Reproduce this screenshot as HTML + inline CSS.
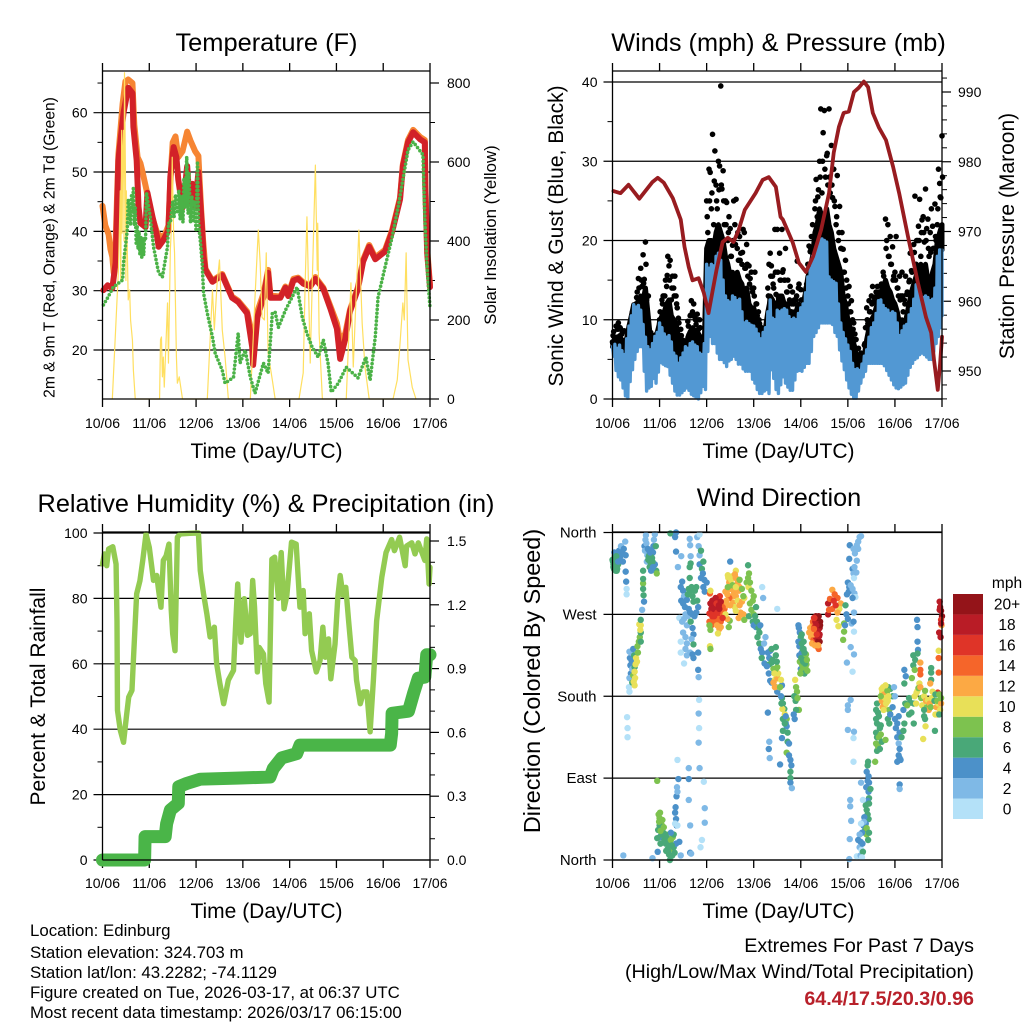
<!DOCTYPE html>
<html lang="en">
<head>
<meta charset="utf-8">
<title>Station Meteogram</title>
<style>
html,body{margin:0;padding:0;background:#fff;width:1024px;height:1024px;overflow:hidden}
svg{display:block;font-family:"Liberation Sans",Arial,sans-serif}
text{fill:#000}
</style>
</head>
<body>
<svg id="root" width="1024" height="1024" viewBox="0 0 1024 1024" xmlns="http://www.w3.org/2000/svg">
<rect x="0" y="0" width="1024" height="1024" fill="#fff"/>
<g id="p1"></g>
<g id="p2"></g>
<g id="p3"></g>
<g id="p4"></g>
<g id="cb"></g>

<text x="266.5" y="51" font-size="25.4" text-anchor="middle">Temperature (F)</text>
<text x="778.5" y="51" font-size="25.3" text-anchor="middle">Winds (mph) &amp; Pressure (mb)</text>
<text x="266" y="512" font-size="25.3" text-anchor="middle">Relative Humidity (%) &amp; Precipitation (in)</text>
<text x="779" y="506" font-size="25.3" text-anchor="middle">Wind Direction</text>

<text x="266.5" y="458" font-size="21" text-anchor="middle">Time (Day/UTC)</text>
<text x="778.5" y="458" font-size="21" text-anchor="middle">Time (Day/UTC)</text>
<text x="266.5" y="918" font-size="21" text-anchor="middle">Time (Day/UTC)</text>
<text x="778.5" y="918" font-size="21" text-anchor="middle">Time (Day/UTC)</text>

<text transform="translate(54.5 247.5) rotate(-90)" font-size="15.6" text-anchor="middle">2m &amp; 9m T (Red, Orange) &amp; 2m Td (Green)</text>
<text transform="translate(496 235) rotate(-90)" font-size="16.8" text-anchor="middle">Solar Insolation (Yellow)</text>
<text transform="translate(563 236) rotate(-90)" font-size="21" text-anchor="middle">Sonic Wind &amp; Gust (Blue, Black)</text>
<text transform="translate(1014 236) rotate(-90)" font-size="21" text-anchor="middle">Station Pressure (Maroon)</text>
<text transform="translate(45 696.5) rotate(-90)" font-size="21" text-anchor="middle">Percent &amp; Total Rainfall</text>
<text transform="translate(540 681) rotate(-90)" font-size="23.4" text-anchor="middle">Direction (Colored By Speed)</text>

<text x="30" y="936" font-size="16.85">Location: Edinburg</text>
<text x="30" y="958" font-size="16.85">Station elevation: 324.703 m</text>
<text x="30" y="978" font-size="16.85">Station lat/lon: 43.2282; -74.1129</text>
<text x="30" y="998" font-size="16.85">Figure created on Tue, 2026-03-17, at 06:37 UTC</text>
<text x="30" y="1018" font-size="16.85">Most recent data timestamp: 2026/03/17 06:15:00</text>
<text x="974" y="952" font-size="19.7" text-anchor="end">Extremes For Past 7 Days</text>
<text x="974" y="978" font-size="19.7" text-anchor="end">(High/Low/Max Wind/Total Precipitation)</text>
<text x="974" y="1005" font-size="19.7" font-weight="bold" text-anchor="end" style="fill:#b8202a">64.4/17.5/20.3/0.96</text>
</svg>

<script>
// ---- shared axis labels ----
const dayLabels = ['10/06','11/06','12/06','13/06','14/06','15/06','16/06','17/06'];
const tempTicks = [20,30,40,50,60];
const solarTicks = [0,200,400,600,800];
const windTicks = [0,10,20,30,40];
const pressureTicks = [950,960,970,980,990];
const percentTicks = [0,20,40,60,80,100];
const rainTicks = [0.0,0.3,0.6,0.9,1.2,1.5];
const rainTickLabels = ['0.0','0.3','0.6','0.9','1.2','1.5'];
const dirTicks = [0,90,180,270,360];
const dirTickLabels = ['North','East','South','West','North'];

// ---- temperature panel ----
const redTimes = [.02,.11,.21,.28,.3,.34,.45,.55,.64,.66,.73,.77,.81,.92,.96,1.07,1.17,1.2,1.3,1.41,1.45,1.52,1.58,1.62,1.71,1.77,1.81,1.86,1.92,1.98,2.05,2.09,2.13,2.16,2.2,2.35,2.56,2.67,2.77,2.9,3.09,3.2,3.22,3.31,3.44,3.54,3.59,3.8,3.91,3.97,4.08,4.18,4.29,4.44,4.55,4.72,4.87,5.01,5.08,5.19,5.29,5.46,5.57,5.7,5.83,6.04,6.19,6.36,6.42,6.53,6.64,6.79,6.89,6.9,6.94,7];
const redTemps = [30.1,30.9,30.4,34.7,40.2,52,60,64.2,63.3,57.6,52,44.1,41.4,40.7,46.5,42.4,39,37.4,38.5,40.2,49.2,54.2,52.5,48.7,44,48,51,45,48,44,50,45,40.2,35.7,33.5,31.5,32.6,30.6,28.8,28.1,26.2,20.5,17.5,25.5,28.9,33,28.8,28.8,30.5,29.1,31.7,32,31.2,30.7,32,30.3,27,23.6,18.5,21.9,26.5,30.3,34.9,37.4,35.3,36.6,39.9,45.4,51,55,56.7,55.5,55,47.5,36.3,30.6];
const orangeTimes = [0,.06,.13,.17,.21,.24,.28,.34,.43,.49,.55,.64,.68,.75,.81,.85,.94,1.02,1.17,1.3,1.41,1.45,1.5,1.56,1.62,1.71,1.81,1.88,1.98,2.05,2.07,2.11,2.15,2.2,2.35,2.56,2.67,2.77,2.9,3.09,3.2,3.25,3.31,3.44,3.54,3.59,3.8,3.91,3.97,4.08,4.18,4.29,4.44,4.55,4.72,4.87,5.01,5.08,5.19,5.29,5.46,5.57,5.7,5.83,6.04,6.19,6.36,6.42,6.53,6.64,6.79,6.89,6.9,6.94,7];
const orangeTemps = [44.3,41,39.5,37,35.7,33,38,53,61.5,65.3,65.6,65,58,52.5,51.5,50.2,47,43.5,39.7,38.8,41,48.5,55,56,52.5,53.5,56.8,55.3,53.5,52.7,49.5,43.5,38.5,33.7,31.7,32.8,30.8,29,28.3,26.5,22.5,21,26.5,29.5,33.5,29.2,29,30.7,29.3,32,32.2,31.4,30.9,32.3,30.5,27.4,24.5,21.5,22.8,26.8,30.6,35.2,37.7,35.6,36.9,40.2,45.7,51.3,55.4,57.1,55.9,55.4,48,37,31];
const greenTimes = [.02,.11,.23,.43,.45,.53,.55,.58,.6,.62,.64,.66,.68,.7,.72,.74,.76,.78,.8,.82,.84,.86,.88,.9,.92,.94,1.02,1.09,1.2,1.28,1.39,1.41,1.45,1.5,1.53,1.56,1.6,1.63,1.66,1.69,1.72,1.74,1.77,1.8,1.83,1.85,1.88,1.91,1.94,1.97,2,2.03,2.05,2.07,2.09,2.13,2.16,2.24,2.35,2.41,2.56,2.62,2.8,2.9,2.94,3.05,3.16,3.26,3.44,3.54,3.63,3.69,3.76,3.91,4.16,4.27,4.37,4.48,4.61,4.72,4.82,4.89,5.04,5.21,5.46,5.63,5.72,5.83,5.89,6.04,6.19,6.32,6.42,6.53,6.64,6.85,6.89,6.94,7];
const greenTemps = [27.6,28.8,30.6,31.8,34.7,40.2,45.3,44,41,46,43,47.5,41,44,38,41,37,40,36,39,35.5,39,36,39,38.5,46.5,42.4,37.4,33,32.3,37.4,41.4,41.4,45,42.4,46.2,43,47,42,46,41.5,49,44,52.6,43,50,41.4,46,41.8,45,40,51.5,42,40,38.5,34.7,29.6,26.2,22.2,19.4,16.6,14.4,15.4,22.8,17.8,20,15.4,12.7,17.8,16.1,26.2,26.4,23.8,26.7,30.6,25.5,22.8,20.5,18.8,21.7,17.8,12.9,14.4,17.1,15.3,18.8,14.9,22.2,28.9,34,39,44.1,48.7,53.7,55.1,52.9,41.9,33.5,27.2];
const solarTimes = [.21,.28,.34,.38,.39,.41,.42,.43,.45,.46,.47,.49,.5,.51,.53,.55,.58,.6,.64,.66,.7,1.22,1.24,1.26,1.28,1.3,1.32,1.39,1.41,1.45,1.47,1.49,1.52,1.54,1.58,1.6,1.64,1.71,2.24,2.35,2.39,2.45,2.5,2.56,2.62,2.69,3.16,3.22,3.26,3.33,3.37,3.41,3.46,3.5,3.54,3.63,3.69,4.2,4.29,4.33,4.37,4.44,4.48,4.55,4.59,4.6,4.63,4.7,5.21,5.31,5.36,5.4,5.48,5.55,5.61,5.7,6.21,6.3,6.36,6.42,6.45,6.49,6.53,6.62,6.7];
const solarValues = [0,175,326,527,300,680,420,620,680,400,826,580,300,527,377,251,276,200,149,73,0,0,150,157,56,106,30,243,91,377,427,612,420,370,106,40,56,0,0,276,175,294,352,175,106,0,0,150,258,428,344,207,200,370,116,48,0,0,66,284,461,91,280,592,326,445,167,0,0,294,81,200,428,192,81,0,0,48,142,243,200,370,99,30,0];

// ---- winds panel ----
const pressureTimes = [.02,.17,.34,.57,.85,.96,1.09,1.28,1.45,1.53,1.62,1.7,1.83,1.94,2.04,2.13,2.21,2.34,2.45,2.57,2.68,2.81,3.04,3.19,3.32,3.47,3.57,3.62,3.83,3.96,4.11,4.26,4.43,4.6,4.7,4.81,4.91,5.02,5.13,5.23,5.34,5.43,5.53,5.66,5.81,5.96,6.09,6.28,6.49,6.66,6.77,6.83,6.91,6.96,7];
const pressureValues = [975.8,975.5,976.7,974.7,977.1,977.7,977,974.8,971.7,967.8,964.9,963,963.3,961.2,958.3,961.6,964.5,968.5,969.1,968.5,970.2,973.1,975.5,977.4,977.8,976.4,972.1,971.7,968.4,965.5,964.2,966.4,970.2,975.5,981.3,985,987,987.2,990,990.6,991.5,990.7,987,984.9,983.1,979.3,975.5,969.2,962.6,957.7,955.5,951.6,947.3,951.1,954.9];
// sonic wind, sampled every 0.05 day: highs and lows of each sample window
const windStepDays = 0.05;
const windHigh = [6.6,6.9,6.4,6.8,6.1,5.6,7.6,9.2,10.5,11.9,11.6,11.8,11.2,9.4,7.8,6.6,6.2,7,7.9,8.4,9.6,9,8.2,7.8,8,7.2,5.8,5.4,4.5,5.2,5.8,6.6,6.4,7,7.2,6.8,6.6,5.8,5.6,7,17,16.5,17,16.8,18,18.4,17.5,15,13,12.4,12.2,13,12.8,12.4,12.6,11,9.6,9.8,9.5,9.3,9.2,8.8,8.2,7.6,8.4,9,11,12.5,10.2,10,11.2,11,11.2,11.4,11.2,10.4,10,10.2,10,10.8,11.5,12,13.4,15.4,16.5,18,18.5,19.5,20,20.2,20,19.8,15.4,15,14.8,14.6,12,9.6,8.4,7.6,6.8,6,4.5,3.7,3.8,3.6,4.4,5.4,6.2,7.8,9,9.6,10.8,12.4,12.5,11.8,11.4,11.2,10.8,11,10.8,9.6,8,8.6,9.2,9.4,10.6,11.4,12.6,14.4,14.2,13.2,12.8,13,12.8,12.4,12.6,14,18,18.8,18.8];
const windLow = [5.4,3.6,2.8,2.4,1.4,.4,.1,2.2,3.7,5,6,6.6,6.6,3.5,1,1.4,1.6,2.6,2,3.4,4.6,4.4,4.2,4.1,3,2,1,.5,.5,.8,1.1,1.4,1.1,.6,.4,.2,0,.8,1.6,1.2,6,7.9,7,7,5.8,5,5,4.6,4.1,4.8,5,5.4,5,4.4,4.4,3.8,3.5,3.5,3.5,2.5,2,1.2,.7,.7,1,1.2,.7,3.7,2.6,1.2,.7,1.8,2.8,2,1.5,1.1,1.1,2.4,3.5,3.6,3.5,4,4.5,4.5,6,7.9,8.4,9,9.6,9.6,9.6,9.6,9.6,9.4,8.4,7.9,6.2,4.8,3.7,2.4,1.4,.6,.1,.1,1,2,2.8,3.5,4.5,4.5,4.5,4.5,4.5,4.5,4.5,4.2,3.6,3,2.4,1.8,1.4,1.3,1.5,1.8,2,3,4,4.5,5,5.2,5.6,5.8,5.6,5.3,5,5,6,7,7.9,9,10.5];
// gusts, sampled every 0.025 day
const gustStepDays = 0.025;
const gustValues = [7.2,8.5,6.4,9.2,7.8,9.6,6.8,8.8,8.2,7.1,8.6,6.5,5.5,6.4,5.2,4.8,9.2,11,8.2,10.8,12,13.5,15.2,12.2,16.5,14.2,18.2,15.1,19.8,12.5,10.4,8.8,8.3,7.2,8,6.8,7.9,6.9,8,7.2,10,8.8,12.5,13,11,15,14.2,18,16.8,17.5,12.5,15.5,14,15.5,13,11.5,10.2,7.2,8.8,6.2,7.4,6.3,6.9,5.6,9.8,8.1,10.5,12.4,11,12,10.5,9.4,10.7,8.8,10,7.5,6.9,7.8,6.2,8.3,25,21,29,28.6,24,33.4,22,31.3,27,24,30,29.4,39.5,26.5,28.8,22,25,24.8,20,23,21.5,18,19.4,25,22,25.2,19,17.5,20.5,18.4,17,21.4,21,16.5,19.5,15.5,16.8,15.2,16,13.5,14,16,12,10.5,11,9.5,7.8,8.6,6.6,5.5,8.2,7.4,14,17,18.4,16.8,15.5,14,21.4,13.2,21.4,12.8,18.4,15,21.4,16.3,15,19,13.5,15,12,14.2,11,13.5,12,10.5,12.5,17.4,14,11.5,13.8,10.6,12.5,11,13.5,14.5,17,19.3,18.6,20.5,22,19,24,27.7,23,26.4,30,36.6,26,33.6,36.4,28,30.7,27,36.6,26,32,25.4,29,24.3,22,28.2,20,24.3,19,21,18.9,16,17.5,15,13,14.2,11,12.4,10,9.6,8.2,7.5,5.5,6.4,4.8,5.8,4.6,5.2,6.8,9,11.5,9.5,12.4,11,13,14.2,12.3,10.5,13.5,14.2,11,12.8,12.7,14,16,13,22.7,20,22,18,20.5,17,19.2,15.5,16,20.5,14,13,15.5,13,16,11,12.5,15.5,13.2,10,14.8,18.4,16.2,13,19.5,25.6,17,20,21.8,25.2,18,22.6,23,19.8,26.5,21.5,22.7,18,21,24,21.8,19,24.6,20,22,29,27.2,25.4,33.2];
// dense lower gust band, sampled every 0.05 day
const gustCoreStepDays = 0.05;
const gustCoreValues = [7,6.8,7.4,8,7.4,6.6,5.8,6,9.5,10,11.5,12.5,13,12.4,14,11,8,7.5,7.4,7.6,9.8,10.5,11,12,12.5,10.5,10,9.5,8,7,6.2,5.8,7.8,8.5,9,8.6,8.5,8,7,6.8,19,20,20,19,21,22,21,20,18,17,15.5,16,15,16,15,14.5,13,14,12,11.5,11.5,10.5,9.2,8.4,7,6,10,13,12.5,11.5,12,13,13,12,12,11,10.5,11,11,12,11,12,12.5,15,16,18,21,22,24,23,23,24,22,21,19,18,17,16,13,12,10,9,7.5,6.5,4.5,4.3,4.4,5.5,7.5,9,10,10.5,11.5,12.5,13,14,15,14,13.5,12.5,12,11,9.5,10,9,10.5,12,13.5,14.5,15.5,16.5,17,16,17,15,14.5,16,17,20,21,22];
// upper gust band, sampled every 0.05 day
const gustUpperValues = [8,7.6,8.8,9,8.4,7.4,6.2,6.8,10.4,10.9,12.8,14,15,14.6,17,13,8.4,8,8,7.6,11,12,13,15.6,15,14,13,12,9.6,8,7,6.4,9.2,10.6,10.5,10,10,9,7.8,7.6,23,25,26,27.5,25,26.4,27,25,22,21,18,20,19.5,21,17.5,18.5,16.5,17,14.5,14,13,12,10,9,7.6,7,13,15.5,14.5,16,16,15,16,15,13.5,12.5,12,12.5,13,14.5,12.5,11.5,14,17,19,20.5,25,25.5,28,30,29,31,28,27,25,23,21,19,16,14,12,11,8.8,7.5,5.4,5,5.2,7,10,11,12,12.8,13,13.5,14.5,15.5,19,18,17,15,15,14,12.5,13,12,13.5,15,16,18.5,20,20,21,21,20,19,18.5,19,20.5,24,25.5,28];

// ---- humidity and precipitation panel ----
const humidityTimes = [0,.04,.09,.13,.22,.29,.31,.32,.38,.45,.51,.56,.63,.66,.73,.8,.86,.93,1,1.09,1.16,1.2,1.25,1.3,1.36,1.42,1.47,1.5,1.55,1.6,1.66,1.87,2.05,2.09,2.16,2.23,2.3,2.39,2.44,2.51,2.59,2.69,2.8,2.85,2.89,2.96,3.03,3.1,3.16,3.21,3.25,3.31,3.35,3.44,3.49,3.56,3.62,3.68,3.76,3.82,3.88,3.94,4.04,4.14,4.22,4.29,4.33,4.42,4.47,4.57,4.65,4.71,4.76,4.83,4.88,4.97,5.03,5.08,5.14,5.2,5.26,5.33,5.4,5.43,5.51,5.58,5.65,5.72,5.79,5.86,5.97,6.06,6.18,6.24,6.35,6.47,6.5,6.61,6.68,6.75,6.89,6.93,6.98,7];
const humidityValues = [90.5,93.6,90,95.1,95.8,90.5,73,45.8,39.7,36,43.7,49.8,51.9,61,81.4,85.4,91.6,99.7,95.6,85.5,87,82.4,77.3,91.6,93,96.6,76.3,69.2,64,98.7,99.7,99.9,100,88.5,81.4,75.3,68.2,71.2,60,53.9,47.8,55,58,73.2,84.4,66.6,79.9,68.7,69.2,85.5,77.3,57.5,65,63,53.9,48.3,92,92.6,80,94,76.8,80.9,97.2,96.6,77.3,82.4,69.2,75.3,64,57.5,61,71.2,62,67.6,55.4,66,80.4,87,81,83.4,73.2,62,61,55,47.8,51.4,51.4,39.2,55,73.2,86.5,94,98,94.6,98.7,90,96,97,93.6,97,91.6,98.2,84.4,89.5];
const rainTimes = [0,.9,.91,1.34,1.37,1.45,1.62,1.63,1.8,2.09,2.87,3.58,3.65,3.83,4.15,4.22,6.15,6.18,6.19,6.54,6.65,6.75,6.89,6.93,7];
const rainValues = [0,0,.11,.11,.17,.235,.266,.345,.36,.38,.385,.39,.43,.48,.5,.54,.54,.595,.69,.7,.785,.855,.86,.965,.965];

// ---- wind direction panel ----
const speedBinLabels = ['0','2','4','6','8','10','12','14','16','18','20+'];
const dirTimes = [
0,.02,.03,.04,.05,.06,.07,.08,.09,.1,.11,.12,.14,.16,.18,.2,.22,.24,.27,.28,.28,.29,.3,.3,.31,.32,.32,.23,
.36,.37,.38,.39,.36,.35,.36,.39,.41,.42,.44,.46,.47,.42,.44,.45,.47,.48,.47,.49,.5,.52,.54,.53,.56,.58,.6,.6,.57,.6,.59,.6,
.63,.67,.65,.65,.65,.66,.65,.68,.69,.7,.71,.72,.74,.73,.75,.76,.78,.8,.82,.84,.86,.87,.88,.9,.92,.93,.94,.85,.9,.95,
.98,1,1.01,1.03,1.05,1.07,1,.97,1,.95,.96,1.02,1.08,1.1,1.13,1.15,1.17,1.2,1.22,1.22,1.28,1.3,1.24,1.3,1.32,1.27,1.35,1.42,1.45,.85,1.36,1.35,1.33,1.38,1.33,1.34,1.36,1.38,1.37,
1.4,1.38,1.62,1.85,1.62,1.94,1.62,1.96,1.96,1.9,1.87,1.65,1.65,1.67,1.82,1.83,1.84,1.83,1.84,1.83,
1.23,1.35,1.33,1.35,1.46,1.39,1.64,1.65,1.66,1.66,1.64,1.64,
1.45,1.48,1.5,1.52,1.46,1.5,1.54,1.58,1.6,1.62,1.65,1.68,1.7,1.72,1.75,1.78,1.55,1.6,1.62,1.65,1.7,1.74,1.78,1.8,1.82,1.42,1.48,1.52,1.58,1.66,1.7,1.72,1.68,
1.5,1.55,1.58,1.45,1.55,1.58,1.65,1.72,1.7,1.72,1.82,1.45,1.52,
1.8,1.85,1.83,1.85,1.85,1.9,1.93,1.88,1.92,1.88,1.95,1.93,1.96,2,
2.07,2.08,2.08,2.12,2.17,2.22,2.31,2.25,2.06,2.1,2.14,2.2,2.28,2.32,2.38,2.36,2.28,2.42,2.34,2.3,2.25,2.18,2.06,2.1,2.14,2.22,2.27,2.3,2.24,2.08,2.06,2.07,2.08,2.47,2.49,2.44,2.4,
2.5,2.62,2.88,2.46,2.45,2.48,2.52,2.55,2.6,2.62,2.66,2.68,2.7,2.5,2.54,2.58,2.62,2.56,2.6,2.66,2.7,2.75,2.8,2.72,2.78,2.62,2.68,2.8,2.5,2.48,2.44,2.42,2.4,2.45,2.55,2.62,2.75,2.78,2.7,2.85,2.88,2.9,2.89,2.92,2.95,2.98,2.92,2.95,3,2.9,3,3.05,3.03,3.18,3.2,3.5,
2.98,3,3.05,3.07,3.1,3.12,3.14,3.08,3.12,3.15,3.18,3.25,3.22,3.17,3.23,3.3,3.33,3.35,3.33,3.38,3.42,3.45,3.5,3.38,3.4,3.28,3.32,3.35,3.38,3.45,3.48,3.5,3.52,3.46,3.5,3.55,3.6,3.6,3.62,3.65,3.66,3.7,3.68,3.7,3.72,3.3,3.33,3.32,3.34,
3.47,3.47,3.49,3.47,3.44,3.42,3.45,3.58,3.56,3.58,3.61,3.59,3.62,3.66,3.68,3.62,3.6,3.72,3.75,3.7,3.75,3.78,3.56,3.8,3.78,3.78,3.78,3.81,
3.88,3.9,3.92,3.86,3.89,3.93,3.96,3.9,3.85,3.87,
3.95,3.96,3.98,4,3.95,3.97,4.02,4.06,4.05,4.1,4.02,3.97,3.98,4,4.02,4.08,4.1,4.12,4.14,
4.2,4.18,4.22,4.28,4.3,4.32,4.35,4.38,4.4,4.36,4.4,4.38,4.34,4.3,4.27,4.24,4.3,4.25,4.34,4.33,4.36,4.4,
4.67,4.58,4.62,4.78,4.72,4.85,4.82,4.58,4.67,4.74,4.78,4.76,4.8,4.92,4.92,4.9,4.95,4.97,5,4.94,4.6,4.7,
5.04,5.03,5.19,5.12,5.15,5.25,5.28,5.22,5.19,5.22,5.1,5.14,5.12,5.13,5.18,5,5.03,5.02,4.98,5.06,5.1,5.14,5.16,5.1,5.13,5.08,5.12,
5.13,5.06,5.13,4.98,5.1,5.06,5,5,5,5.13,5.12,5.12,5.05,5.05,5.07,5.04,5.03,5.19,
5.4,5.44,5.42,5.39,5.45,5.44,5.28,5.45,5.42,5.48,5.45,5.4,5.42,5.32,5.38,5.44,5.38,5.35,5.33,5.37,5.4,5.4,5.45,5.34,5.28,5.3,5.25,5.22,5.27,5.25,5.29,5.27,5.32,5.31,5.43,5.3,
5.43,5.42,5.58,5.62,5.6,5.62,5.6,5.62,5.6,5.64,5.66,5.68,5.66,5.64,5.68,5.7,5.72,5.7,5.6,5.62,
5.72,5.74,5.76,5.72,5.78,5.74,5.8,5.83,5.85,5.88,5.82,5.86,5.9,5.78,5.95,5.98,6,5.95,5.9,5.85,5.88,5.8,5.9,
6,6.02,6.05,6.08,6.05,6.08,6.1,6.14,6.1,6.08,6.12,6.05,6.1,6.1,6.1,6.18,6.2,6.18,6.22,
6.47,6.48,6.48,6.49,6.39,6.43,6.48,6.54,6.54,6.54,6.39,6.42,6.36,6.52,6.48,6.2,6.23,6.2,6.77,6.77,6.77,6.75,6.91,6.93,6.93,6.93,6.95,6.96,6.98,7,6.95,6.98,6.99,6.98,6.94,6.97,
6.3,6.33,6.4,6.42,6.45,6.46,6.5,6.54,6.56,6.58,6.62,6.64,6.66,6.68,6.7,6.72,6.74,6.76,6.78,6.8,6.84,6.86,6.88,6.9,6.92,6.86,6.9,6.94,6.96,6.98,6.98,6.62,6.65,6.62,6.64,6.94,6.85,6.6,6.3,6.4,6.35,6.26,
4.26,4.29,4.31,4.33,4.35,4.37,4.39,4.41,4.28,4.31,4.35,4.38,4.41,4.26,4.3,4.34,4.37,4.29,4.33,4.28,
.01,.03,.05,.07,.09,.11,.02,.06,.1,.04,.08,.12,
.77,.79,.81,.83,.85,.8,.83,.86,.78,.82,
1.04,1.06,1.09,1.12,1.16,1.19,1.21,1.24,1.26,1.14,1.18,1.02,.99,
4.01,4.03,4.05,4.07,4.09,4.11,4.04,4.08,3.99,4.06,4.13,4.02,
2.15,2.19,2.23,2.27,2.16,2.21,2.26,2.3,2.12,2.34,
5.73,5.75,5.77,5.79,5.81,5.84,5.76,5.8,5.86,5.7
];
const dirDegrees = [
330,325,320,332,328,322,335,326,318,330,336,325,340,333,345,338,328,342,350,335,317,306,298,292,157,145,135,5,
229,222,214,205,200,190,185,228,218,210,232,225,212,195,203,196,192,200,207,215,222,218,228,235,240,245,240,250,259,258,253,264,
275,284,318,304,298,291,309,345,340,352,357,348,335,328,342,330,335,328,326,332,338,345,352,358,345,318,315,322,325,87,
50,46,52,42,38,35,38,33,25,24,9,18,30,22,18,28,12,6,0,12,25,28,30,14,8,5,18,20,5,2,38,45,40,38,52,58,70,75,80,
89,110,101,101,89,86,66,57,41,22,14,38,8,7,209,201,176,161,145,129,
359,360,355,339,334,322,353,346,334,326,310,322,
300,306,296,290,285,282,278,286,292,298,296,300,290,284,296,300,270,268,276,272,270,268,272,285,278,266,262,265,258,262,255,248,243,
250,245,238,240,232,225,228,237,226,222,228,228,216,
355,358,345,335,325,320,328,340,315,310,308,300,295,305,
293,296,282,285,280,277,283,285,271,276,272,268,270,272,276,283,290,280,278,262,265,262,262,258,265,258,254,256,249,253,258,235,232,256,263,265,270,
328,318,324,310,313,305,308,312,314,310,305,296,300,298,290,295,290,283,278,285,280,284,288,272,270,274,266,264,280,288,292,285,295,300,302,300,298,290,308,305,310,315,300,305,296,285,282,275,290,268,270,278,268,300,288,276,
262,258,256,262,255,250,258,245,238,232,228,245,238,222,216,228,222,230,215,217,210,205,212,232,220,213,205,197,195,198,190,200,205,190,185,190,192,178,172,166,160,155,150,147,140,162,130,122,112,
234,225,218,210,205,195,190,198,190,180,166,172,155,150,158,142,134,130,128,118,115,110,105,104,97,90,85,79,
198,190,185,180,175,178,165,165,160,155,
258,255,250,245,240,235,238,232,225,222,228,225,218,210,208,205,212,215,208,
255,250,245,266,260,268,262,268,255,250,240,232,235,240,242,238,250,258,242,252,258,248,
297,282,287,288,292,282,276,270,276,280,272,264,257,260,251,242,280,270,265,258,275,285,
346,331,329,342,337,355,356,350,346,342,320,322,315,310,316,305,300,295,292,302,298,293,289,288,272,260,262,
251,234,226,217,207,176,170,165,143,141,134,108,66,59,43,23,1,4,
97,92,87,80,85,75,85,68,65,78,62,55,50,66,60,45,40,47,38,33,35,28,30,42,40,30,28,22,20,14,11,5,9,18,22,3,
108,104,108,120,128,135,140,150,155,162,158,145,135,125,122,138,130,148,165,172,
188,178,172,175,168,168,183,182,175,165,173,190,188,190,180,190,180,168,160,155,150,132,160,
155,145,150,158,135,128,140,135,122,115,110,108,112,83,78,142,150,165,172,
264,256,240,231,225,220,227,217,209,204,214,209,200,194,186,209,202,194,211,206,198,194,184,230,222,206,284,278,274,268,275,264,258,260,250,245,
178,173,172,180,172,184,189,190,178,170,180,186,175,168,176,165,172,168,178,185,175,182,168,160,172,160,175,182,165,172,178,158,147,165,155,160,142,133,160,150,162,170,
262,256,246,238,244,240,246,262,248,262,266,254,258,248,236,248,236,266,258,254,
328,330,335,318,322,334,322,326,320,338,334,328,
333,322,334,322,328,338,340,322,340,318,
28,44,36,28,24,20,16,22,16,10,10,32,42,
222,214,218,212,216,226,232,228,205,240,220,248,
276,288,272,276,268,282,280,284,268,266,
184,190,182,178,172,186,165,192,180,180
];
const dirSpeeds = [
6,6,6,6,6,6,6,6,6,6,4,6,4,4,3,4,4,4,3,4,4,4,1,1,1,1,1,3,
3,4,4,4,3,1,1,3,4,3,5,7,7,7,8,10,10,10,10,10,10,10,8,8,8,8,6,7,10,10,10,6,
3,4,6,8,7,6,6,4,3,2,2,3,3,3,4,6,6,6,6,6,4,4,2,2,6,6,8,4,4,8,
8,8,8,8,8,8,6,6,4,6,4,6,6,6,6,8,6,6,6,8,8,6,4,6,6,6,4,4,3,2,4,4,1,1,4,4,4,3,3,
4,1,3,3,5,1,3,3,3,1,1,3,4,3,4,3,1,3,1,3,
6,4,4,4,3,2,3,2,3,6,6,6,
4,4,4,3,4,4,4,4,6,6,6,6,6,6,6,6,3,3,4,4,4,4,4,6,4,1,2,2,3,6,4,4,3,
2,2,2,1,3,3,3,6,4,4,4,1,1,
2,1,3,3,4,6,6,6,4,4,4,5,4,4,
14,10,18,18,18,18,20,18,16,18,16,16,16,15,14,14,16,13,14,14,15,14,14,14,14,13,12,12,10,8,8,10,8,8,8,12,11,
4,10,6,11,10,13,11,10,12,12,13,12,13,12,13,13,12,12,10,11,13,12,10,12,12,10,12,8,13,14,12,12,12,8,8,10,8,8,8,8,8,8,10,8,8,8,8,8,8,6,8,6,6,1,2,1,
6,4,4,6,6,6,4,6,6,4,5,2,2,6,4,4,4,4,6,6,8,8,8,6,6,4,4,4,5,10,10,12,10,4,4,10,4,6,6,6,10,8,4,4,6,4,3,4,3,
6,6,6,8,10,12,12,10,8,5,10,6,6,6,4,6,4,6,4,8,4,4,4,4,6,6,4,2,
10,8,8,6,6,8,8,6,4,4,
4,4,4,6,4,4,6,6,6,6,5,4,8,4,8,6,8,8,8,
12,12,12,16,16,20,18,20,20,18,20,14,14,16,14,12,14,13,16,18,16,18,
12,18,14,15,14,12,10,18,14,16,12,10,10,8,8,8,6,4,4,4,15,16,
4,4,2,2,2,2,2,2,2,2,4,3,3,1,2,4,4,4,4,3,2,2,1,4,3,2,4,
1,2,2,2,1,2,2,2,2,2,1,1,2,2,2,3,2,1,
4,4,4,4,4,4,3,6,4,6,6,6,6,1,6,6,4,4,4,6,8,8,6,3,1,4,2,4,4,2,1,2,6,4,6,1,
6,6,8,6,8,6,6,6,7,6,6,6,8,8,6,8,6,6,6,6,
10,10,12,12,10,12,10,8,10,8,10,6,6,6,6,3,3,4,6,6,6,8,4,
4,4,4,4,4,2,4,6,4,4,4,4,4,4,2,6,6,4,6,
4,4,4,4,6,6,6,12,14,14,6,8,8,10,10,4,4,6,6,6,6,12,16,10,14,15,18,18,20,20,18,16,12,18,18,18,
6,6,6,10,10,10,8,12,8,10,10,8,12,8,10,12,12,8,10,10,6,6,12,12,10,10,8,8,10,12,8,6,10,6,6,6,6,10,6,6,6,8,
14,16,18,14,18,20,18,20,14,18,20,18,20,13,12,16,12,16,18,14,
6,6,6,6,6,4,6,6,6,4,6,4,
6,6,6,6,6,4,4,4,4,4,
6,8,8,6,6,6,6,8,6,6,6,8,8,
6,8,6,8,6,8,6,6,8,6,8,6,
18,18,16,18,16,16,18,18,16,16,
10,10,12,10,10,8,10,10,10,8
];
const speedColors = ['#b4e1f8','#7fb9e6','#4c91c9','#49a878','#7dc24f','#e8e058','#fca944','#f5652a','#df3428','#b91c26','#941419'];

// ---- drawing helpers ----
const NS = 'http://www.w3.org/2000/svg';
function linear(d0, d1, r0, r1) { return v => r0 + (v - d0) * (r1 - r0) / (d1 - d0); }
function line(parent, x1, y1, x2, y2, w, color) {
  const el = document.createElementNS(NS, 'line');
  el.setAttribute('x1', x1);
  el.setAttribute('y1', y1);
  el.setAttribute('x2', x2);
  el.setAttribute('y2', y2);
  el.setAttribute('stroke', color || '#000');
  el.setAttribute('stroke-width', w);
  parent.appendChild(el);
  return el;
}
function tickLine(parent, x1, y1, x2, y2, w, kind) {
  const el = line(parent, x1, y1, x2, y2, w);
  
  
  return el;
}
function label(parent, x, y, str, size, anchor, kind) {
  const el = document.createElementNS(NS, 'text');
  el.setAttribute('x', x);
  el.setAttribute('y', y);
  el.setAttribute('font-size', size);
  el.setAttribute('text-anchor', anchor);
  el.textContent = str;
  
  
  parent.appendChild(el);
  return el;
}
function polyPath(parent, xs, ys, sx, sy, width, color, kind, dash) {
  const el = document.createElementNS(NS, 'path');
  let d = '';
  const n = Math.min(xs.length, ys.length);
  for (let i = 0; i < n; i++) d += (i ? 'L' : 'M') + sx(xs[i]).toFixed(2) + ' ' + sy(ys[i]).toFixed(2);
  el.setAttribute('d', d);
  el.setAttribute('fill', 'none');
  el.setAttribute('stroke', color);
  el.setAttribute('stroke-width', width);
  el.setAttribute('stroke-linejoin', 'round');
  el.setAttribute('stroke-linecap', 'round');
  if (dash) el.setAttribute('stroke-dasharray', dash);
  
  
  parent.appendChild(el);
  return el;
}
function dot(parent, cx, cy, r, color, kind) {
  const el = document.createElementNS(NS, 'circle');
  el.setAttribute('cx', cx.toFixed(2));
  el.setAttribute('cy', cy.toFixed(2));
  el.setAttribute('r', r);
  el.setAttribute('fill', color);
  
  
  parent.appendChild(el);
}
function frame(parent, box, sx, bottomLabelY) {
  dayLabels.forEach((lab, i) => {
    const x = sx(i);
    tickLine(parent, x, box.top - 8, x, box.top, 1.3, 'x-top-tick');
    tickLine(parent, x, box.bottom, x, box.bottom + 8, 1.3, 'x-bottom-tick');
    label(parent, x, bottomLabelY, lab, 14, 'middle', 'x-tick-label');
  });
}
function outline(parent, box) {
  tickLine(parent, box.left, box.top, box.right, box.top, 1.3, 'plot-top-border');
  tickLine(parent, box.left, box.bottom, box.right, box.bottom, 1.3, 'plot-bottom-border');
  tickLine(parent, box.left, box.top, box.left, box.bottom, 1.3, 'plot-left-border');
  tickLine(parent, box.right, box.top, box.right, box.bottom, 1.3, 'plot-right-border');
}
function leftAxis(parent, box, sy, ticks, minorStep, labels, labelSize, labelGap) {
  ticks.forEach((v, i) => {
    tickLine(parent, box.left - 9, sy(v), box.right, sy(v), 1.2, 'gridline');
    label(parent, box.left - (labelGap || 15), sy(v) + 5, labels ? labels[i] : String(v), labelSize || 14, 'end', 'y-tick-label');
  });
  if (minorStep) {
    const lo = Math.ceil(sy.domainLow / minorStep) * minorStep;
    for (let v = lo; v <= sy.domainHigh; v += minorStep) {
      if (ticks.indexOf(v) < 0) tickLine(parent, box.left - 5, sy(v), box.left, sy(v), 1, 'y-minor-tick');
    }
  }
}
function rightAxis(parent, box, sy, ticks, minorStep, labels, labelX) {
  ticks.forEach((v, i) => {
    tickLine(parent, box.right, sy(v), box.right + 9, sy(v), 1.2, 'right-major-tick');
    label(parent, labelX, sy(v) + 5, labels ? labels[i] : String(v), 14, 'start', 'right-tick-label');
  });
  const lo = Math.ceil(sy.domainLow / minorStep - 1e-6);
  for (let k = lo; k * minorStep <= sy.domainHigh + 1e-6; k++) {
    const v = k * minorStep;
    if (!ticks.some(t => Math.abs(t - v) < 1e-6)) tickLine(parent, box.right, sy(v), box.right + 5, sy(v), 1, 'right-minor-tick');
  }
}
function ranged(d0, d1, r0, r1, lo, hi) {
  const f = linear(d0, d1, r0, r1);
  f.domainLow = lo;
  f.domainHigh = hi;
  return f;
}

// ---- panel 1: temperature ----
(function () {
  const g = document.getElementById('p1');
  const box = { left: 102.5, right: 430, top: 71, bottom: 399 };
  const sx = linear(0, 7, box.left, box.right);
  const sy = ranged(60, 20, 112.7, 350, 12, 67);
  const sr = ranged(0, 800, 399, 83, 0, 820);
  frame(g, box, sx, 428);
  leftAxis(g, box, sy, tempTicks, 5);
  rightAxis(g, box, sr, solarTicks, 100, null, 447);
  polyPath(g, orangeTimes, orangeTemps, sx, sy, 6, '#f68533', 'orange-9m-temperature-line');
  polyPath(g, redTimes, redTemps, sx, sy, 6, '#d22128', 'red-2m-temperature-line');
  polyPath(g, solarTimes, solarValues, sx, sr, 1.2, '#ffdf60', 'solar-insolation-line');
  polyPath(g, greenTimes, greenTemps, sx, sy, 3.6, '#4bb247', 'green-dewpoint-line', '0 3.9');
  outline(g, box);
})();

// ---- panel 2: winds and pressure ----
(function () {
  const g = document.getElementById('p2');
  const box = { left: 612.5, right: 942, top: 71, bottom: 399 };
  const sx = linear(0, 7, box.left, box.right);
  const sy = ranged(0, 40, 399, 82, 0, 41);
  const sp = ranged(950, 990, 371, 92, 946, 993);
  frame(g, box, sx, 428);
  leftAxis(g, box, sy, windTicks, 5);
  rightAxis(g, box, sp, pressureTicks, 2, null, 958);
  // solid band of overlapping gust readings between the wind tops and the lower gust band
  const bandTimes = [];
  const bandValues = [];
  gustCoreValues.forEach((v, i) => {
    bandTimes.push(i * gustCoreStepDays);
    bandValues.push(v);
  });
  for (let i = windHigh.length - 1; i >= 0; i--) {
    bandTimes.push(i * windStepDays);
    bandValues.push(windHigh[i]);
  }
  polyPath(g, bandTimes, bandValues, sx, sy, 5, '#000', 'gust-dense-band').setAttribute('fill', '#000');
  gustUpperValues.forEach((v, i) => {
    dot(g, sx(i * gustCoreStepDays + 0.012), sy(v), 2.8, '#000', 'gust-dot');
  });
  gustValues.forEach((v, i) => {
    dot(g, sx(i * gustStepDays), sy(v), 2.8, '#000', 'gust-dot');
  });
  const zigTimes = [];
  const zigValues = [];
  windHigh.forEach((v, i) => {
    zigTimes.push(i * windStepDays);
    zigValues.push(v);
    if (i < windLow.length) {
      zigTimes.push(Math.min(7, (i + 0.5) * windStepDays));
      zigValues.push(windLow[i]);
    }
  });
  polyPath(g, zigTimes, zigValues, sx, sy, 3.4, '#5298d3', 'sonic-wind-line');
  polyPath(g, pressureTimes, pressureValues, sx, sp, 3.8, '#981c20', 'station-pressure-line');
  outline(g, box);
})();

// ---- panel 3: humidity and precipitation ----
(function () {
  const g = document.getElementById('p3');
  const box = { left: 102.5, right: 430, top: 532, bottom: 860 };
  const sx = linear(0, 7, box.left, box.right);
  const sy = ranged(0, 100, 860, 533, 0, 100);
  const sr = ranged(0, 1.5, 860, 541, 0, 1.5);
  frame(g, box, sx, 888);
  leftAxis(g, box, sy, percentTicks, 10);
  rightAxis(g, box, sr, rainTicks, 0.1, rainTickLabels, 447);
  polyPath(g, humidityTimes, humidityValues, sx, sy, 5.4, '#93cb52', 'relative-humidity-line');
  polyPath(g, rainTimes, rainValues, sx, sr, 13, '#4ab548', 'total-precipitation-line');
  outline(g, box);
})();

// ---- panel 4: wind direction ----
(function () {
  const g = document.getElementById('p4');
  const box = { left: 612.5, right: 942, top: 532, bottom: 860 };
  const sx = linear(0, 7, box.left, box.right);
  const sy = ranged(0, 360, 860, 532.5, 0, 360);
  frame(g, box, sx, 888);
  leftAxis(g, box, sy, dirTicks, 0, dirTickLabels, 15, 16);
  const n = Math.min(dirTimes.length, dirDegrees.length, dirSpeeds.length);
  for (let i = 0; i < n; i++) {
    const bin = Math.min(speedColors.length - 1, Math.floor(dirSpeeds[i] / 2));
    dot(g, sx(dirTimes[i]), sy(dirDegrees[i]), 3.2, speedColors[bin], 'wind-direction-dot');
  }
  outline(g, box);
})();

// ---- colorbar ----
(function () {
  const g = document.getElementById('cb');
  const sy = linear(0, speedColors.length, 819, 594);
  speedColors.forEach((c, i) => {
    const el = document.createElementNS(NS, 'rect');
    el.setAttribute('x', 953);
    el.setAttribute('y', sy(i + 1));
    el.setAttribute('width', 30);
    el.setAttribute('height', sy(i) - sy(i + 1));
    el.setAttribute('fill', c);
    
    
    g.appendChild(el);
    label(g, 1007, sy(i + 0.5) + 5.5, speedBinLabels[i], 15.5, 'middle', 'colorbar-label');
  });
  label(g, 1007, 588, 'mph', 15.5, 'middle', 'colorbar-unit');
})();
</script>
</body>
</html>
